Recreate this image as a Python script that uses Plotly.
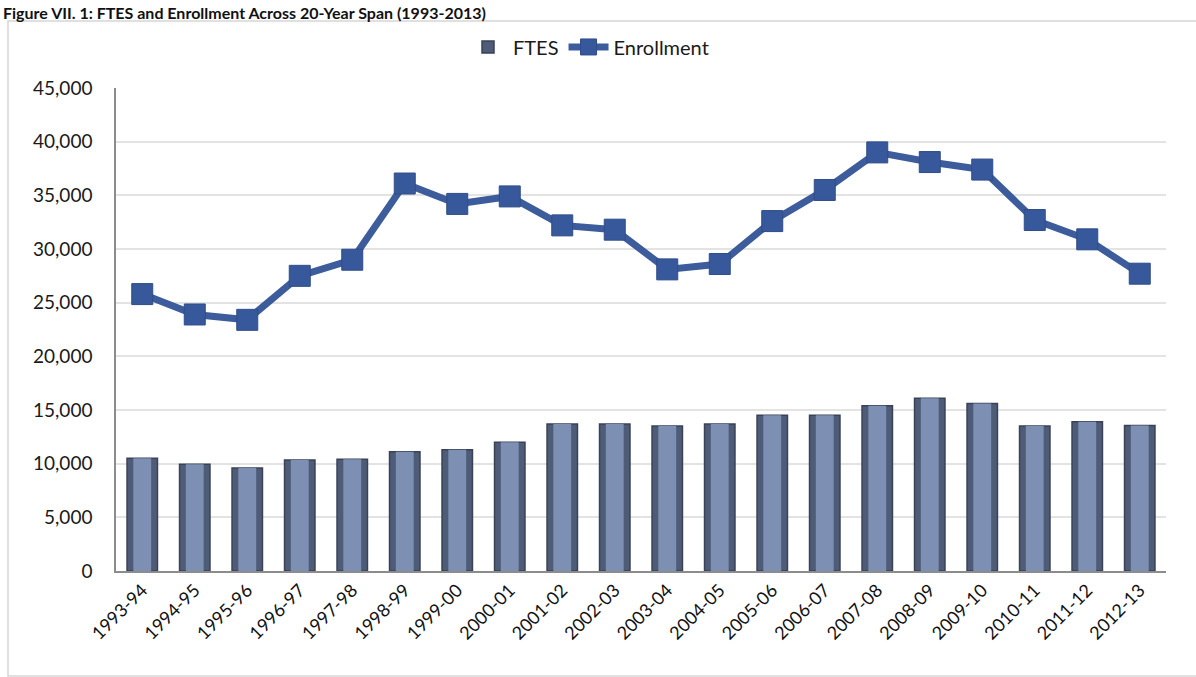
import plotly.graph_objects as go

# Academic years shown on the category axis
years = ["1993-94", "1994-95", "1995-96", "1996-97", "1997-98", "1998-99",
         "1999-00", "2000-01", "2001-02", "2002-03", "2003-04", "2004-05",
         "2005-06", "2006-07", "2007-08", "2008-09", "2009-10", "2010-11",
         "2011-12", "2012-13"]

# Full-time equivalent students per year
ftes = [10500, 9950, 9600, 10350, 10400, 11100, 11300, 12000, 13700, 13700,
        13500, 13700, 14500, 14500, 15400, 16100, 15600, 13500, 13900, 13550]

# Headcount enrollment per year
enrollment = [25800, 23900, 23400, 27500, 29000, 36100, 34200, 34900, 32200, 31800,
              28100, 28600, 32600, 35500, 39000, 38100, 37400, 32700, 30900, 27700]

y_ticks = [0, 5000, 10000, 15000, 20000, 25000, 30000, 35000, 40000, 45000]
title_text = "Figure VII. 1: FTES and Enrollment Across 20-Year Span (1993-2013)"

FONT = "Lato, 'Open Sans', sans-serif"

fig = go.Figure()

# Dark outer body of each column
fig.add_trace(go.Bar(
    x=years, y=ftes, name="FTES", width=0.58,
    marker=dict(color="#4f5c77", line=dict(color="#394256", width=1.5)),
))
# Lighter inner face gives the column a shaded, rounded look
fig.add_trace(go.Bar(
    x=years, y=ftes, name="FTES", width=0.34, showlegend=False,
    marker=dict(color="#7d8fb3", line=dict(width=0)),
    hoverinfo="skip",
))

fig.add_trace(go.Scatter(
    x=years, y=enrollment, name="Enrollment", mode="lines+markers",
    line=dict(color="#3d5c9b", width=7),
    marker=dict(symbol="square", size=21, color="#37589a",
                line=dict(color="#2f4d88", width=1)),
))

fig.update_layout(
    width=1196, height=677,
    margin=dict(l=116, r=30, t=88, b=106),
    paper_bgcolor="white", plot_bgcolor="white",
    barmode="overlay",
    font=dict(family=FONT, color="#1a1a1a"),
    showlegend=True,
    legend=dict(orientation="h", x=0.45, xanchor="center", y=1.085, yanchor="middle",
                font=dict(size=20, family=FONT, color="#1a1a1a"),
                itemwidth=40, traceorder="normal", bgcolor="rgba(0,0,0,0)"),
    xaxis=dict(
        type="category", range=[-0.5, len(years) - 0.5], tickangle=-45, showgrid=False,
        showline=True, linecolor="#8c8c8c", linewidth=1.5,
        ticks="", tickfont=dict(size=18, family=FONT, color="#111"),
    ),
    yaxis=dict(
        range=[0, 45000], tickvals=y_ticks, tickformat=",",
        showgrid=True, gridcolor="#e3e3e3", gridwidth=1.5,
        showline=True, linecolor="#8c8c8c", linewidth=1.5,
        ticks="", ticklabelstandoff=18,
        tickfont=dict(size=19, family=FONT, color="#1a1a1a"),
        zeroline=False,
    ),
    shapes=[
        # Light frame around the chart area
        dict(type="rect", xref="paper", yref="paper",
             x0=(8 - 116) / 1050, x1=1.2, y0=(571 - 676) / 483, y1=(571 - 21) / 483,
             line=dict(color="#d6d6d6", width=1.5), fillcolor="rgba(0,0,0,0)", layer="below"),
    ],
    annotations=[
        dict(text="<b>" + title_text + "</b>", xref="paper", yref="paper",
             x=(1 - 116) / 1050, xanchor="left", y=(571 - 1) / 483, yanchor="top",
             showarrow=False, font=dict(size=16, family=FONT, color="#111")),
    ],
)

fig.write_html("out.html")
